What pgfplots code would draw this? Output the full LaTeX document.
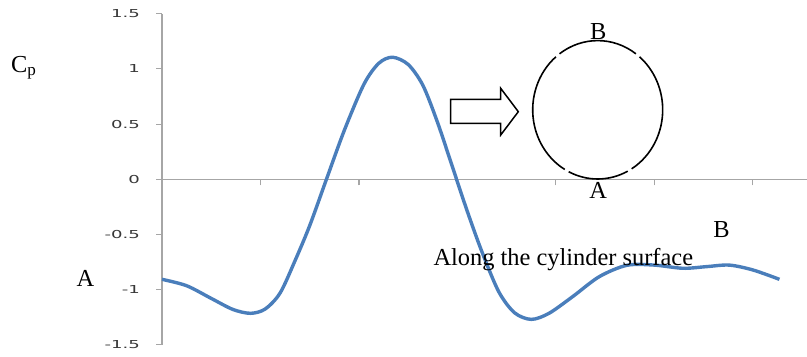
\documentclass[border=0pt]{standalone}
\usepackage{fontspec}
\setmainfont{Liberation Serif}
\newfontfamily\tickfont{DejaVu Sans}
\usepackage{pgfplots}
\pgfplotsset{compat=1.18}
\usepackage{graphicx}

\definecolor{cpblue}{RGB}{74,126,187}
\definecolor{axgray}{RGB}{166,166,166}
\definecolor{lblgray}{RGB}{56,56,56}

% pressure coefficient along the cylinder surface, A -> B
\pgfplotstableread{
x     cp
0.00  -0.907
0.25  -0.965
0.50  -1.080
0.72  -1.180
0.90  -1.215
1.05  -1.175
1.20  -1.030
1.35  -0.740
1.50  -0.420
1.67   0.000
1.85   0.440
2.05   0.860
2.20   1.050
2.34   1.106
2.50   1.040
2.65   0.850
2.80   0.510
2.95   0.110
3.10  -0.290
3.25  -0.660
3.42  -1.020
3.58  -1.210
3.75  -1.270
3.93  -1.215
4.17  -1.064
4.44  -0.883
4.72  -0.780
5.00  -0.778
5.29  -0.807
5.53  -0.792
5.76  -0.778
6.00  -0.822
6.27  -0.907
}\cpdata

\begin{document}
\begin{tikzpicture}[x=1bp,y=1bp]
\path[use as bounding box] (0,0) rectangle (807,356);
\begin{axis}[
  at={(162bp,11.25bp)}, anchor=south west,
  scale only axis, width=645bp, height=331bp,
  xmin=0, xmax=6.55, ymin=-1.5, ymax=1.5,
  axis x line=middle, axis y line=left,
  axis line style={-, axgray, line width=1.1bp},
  tick style={axgray, line width=1.1bp},
  tick align=outside, major tick length=6bp,
  xtick={1,2,3,4,5,6}, xticklabels={},
  ytick={-1.5,-1,-0.5,0,0.5,1,1.5},
  yticklabel style={font=\tickfont\fontsize{11}{13}\selectfont, text=lblgray, inner sep=0pt, xshift=-16bp},
  yticklabel={\scalebox{1.65}[1]{\pgfmathprintnumber[assume math mode=true]{\tick}}},
  clip=false,
]
\addplot[cpblue, line width=3.4bp, smooth] table[x=x, y=cp] {\cpdata};
\end{axis}

% labels
\node[anchor=base west, inner sep=0pt, font=\fontsize{24.5}{28}\selectfont] at (11,284) {C\textsubscript{p}};
\node[anchor=base, inner sep=0pt, font=\fontsize{24.5}{28}\selectfont] at (85.5,69.3) {A};
\node[anchor=base, inner sep=0pt, font=\fontsize{24.5}{28}\selectfont] at (721.5,118.7) {B};
\node[anchor=base west, inner sep=0pt, font=\fontsize{24.5}{28}\selectfont] at (433.3,91) {Along the cylinder surface};

% cylinder sketch
\begin{scope}[shift={(597.7,246.2)}, line width=1.6bp]
\draw (54:65 and 69.2) arc[start angle=54, end angle=126, x radius=65, y radius=69.2];
\draw (130:65 and 69.2) arc[start angle=130, end angle=239.5, x radius=65, y radius=69.2];
\draw (243.5:65 and 69.2) arc[start angle=243.5, end angle=297.5, x radius=65, y radius=69.2];
\draw (301.5:65 and 69.2) arc[start angle=301.5, end angle=410, x radius=65, y radius=69.2];
\end{scope}
\node[anchor=base, inner sep=0pt, font=\fontsize{24.5}{28}\selectfont] at (598.3,316.7) {B};
\node[anchor=base, inner sep=0pt, font=\fontsize{24.5}{28}\selectfont] at (598.3,157.7) {A};

% flow arrow
\draw[line width=1.5bp, fill=white] (450.7,256.7) -- (500.7,256.7) -- (500.7,267.7) -- (518.3,244.3)
  -- (500.7,221) -- (500.7,232.7) -- (450.7,232.7) -- cycle;
\end{tikzpicture}
\end{document}
